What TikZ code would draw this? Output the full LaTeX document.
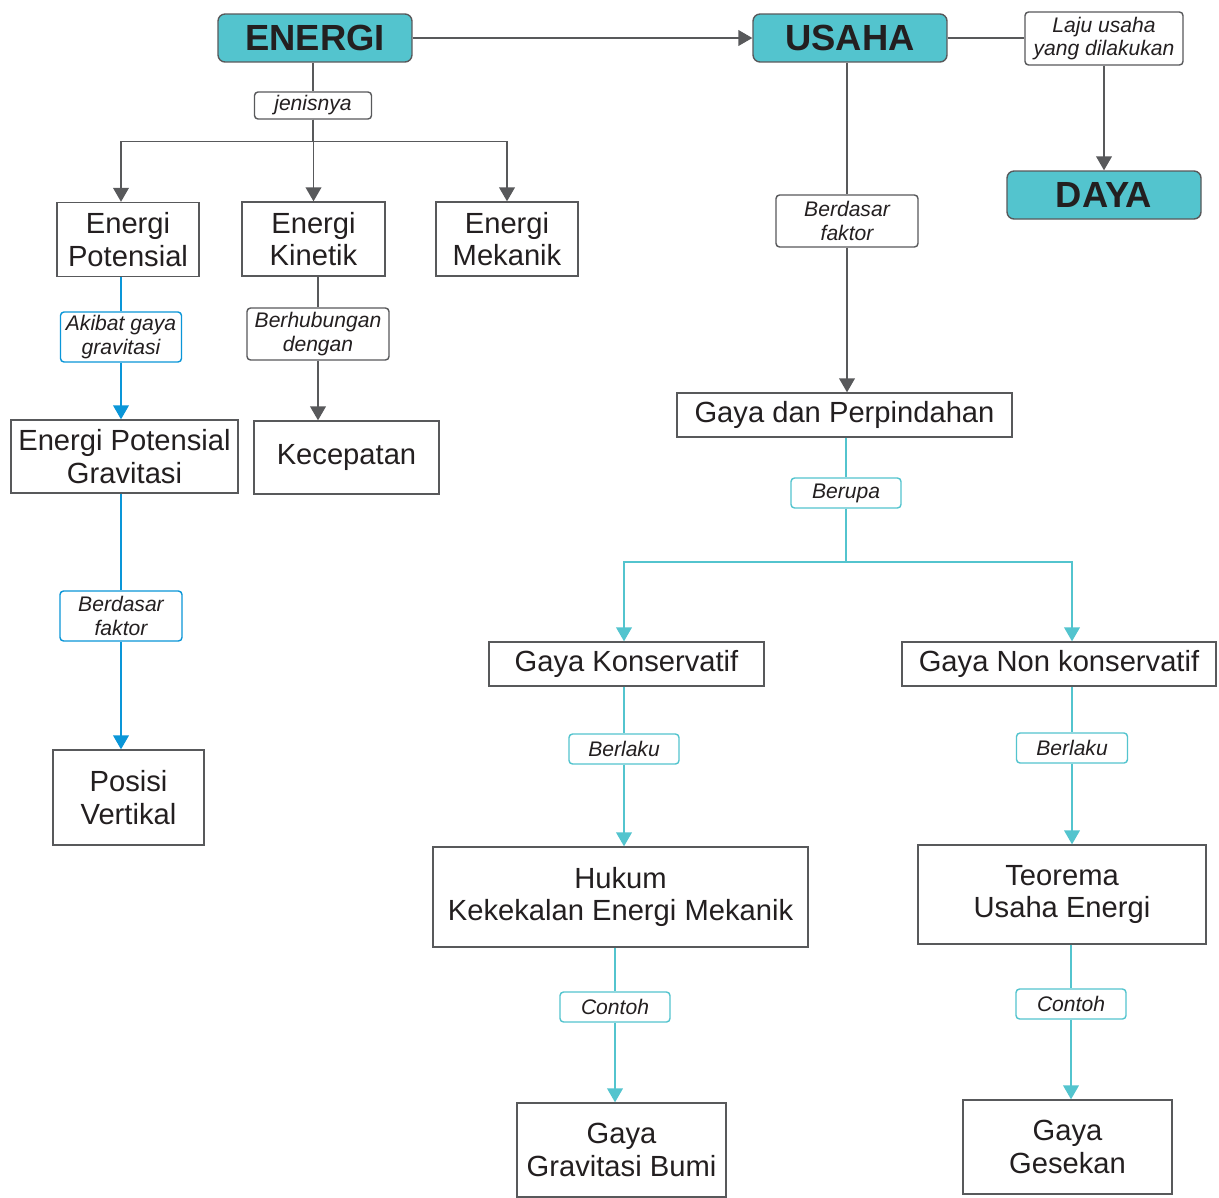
\documentclass[tikz,border=0pt]{standalone}
\usepackage{fontspec}
\setmainfont{Liberation Sans}
\usetikzlibrary{arrows.meta}

\definecolor{tosca}{HTML}{53C4CE}
\definecolor{garis}{HTML}{58595B}
\definecolor{biru}{HTML}{0A96D8}
\definecolor{teks}{HTML}{231F20}

\tikzset{
  judul/.style={draw=garis, fill=tosca, rounded corners=4pt, line width=0.8pt,
    minimum width=3.88cm, minimum height=0.96cm, text=teks,
    font=\fontsize{20.7}{24}\selectfont\bfseries},
  kotak/.style={draw=garis, line width=0.8pt, align=center, text=teks,
    font=\fontsize{16.6}{18.5}\selectfont},
  ket/.style={draw=garis, fill=white, rounded corners=2pt, line width=0.8pt,
    align=center, text=teks, inner sep=1pt,
    font=\fontsize{12}{13.6}\selectfont\itshape},
  ketbiru/.style={ket, draw=biru},
  kettosca/.style={ket, draw=tosca},
  panah/.style={-{Triangle[width=9pt,length=8pt]}},
  abu/.style={draw=garis, line width=0.9pt},
  lbiru/.style={draw=biru, line width=0.9pt},
  ltosca/.style={draw=tosca, line width=0.9pt},
}

\begin{document}
\begin{tikzpicture}[x=0.02cm, y=-0.02cm]
   \clip (0,0) rectangle (1219,1197);
   \fill[white] (0,0) rectangle (1219,1197);

   % kepala
   \node[judul] (energi) at (315,38) {ENERGI};
   \node[judul] (usaha) at (850,38) {USAHA};
   \node[judul] (daya) at (1104,195) {DAYA};
   \node[ket, minimum width=3.16cm, minimum height=1.06cm] (laju) at (1104,38.5) {Laju usaha\\yang dilakukan};

   % cabang energi
   \node[ket, minimum width=2.34cm, minimum height=0.54cm] (jenis) at (313,105.5) {jenisnya};
   \node[kotak, minimum width=2.84cm, minimum height=1.48cm] (epot) at (128,239.5) {Energi\\Potensial};
   \node[kotak, minimum width=2.86cm, minimum height=1.48cm] (ekin) at (313.5,239) {Energi\\Kinetik};
   \node[kotak, minimum width=2.84cm, minimum height=1.48cm] (emek) at (507,239) {Energi\\Mekanik};
   \node[ketbiru, minimum width=2.42cm, minimum height=1.0cm] (akibat) at (121,337) {Akibat gaya\\gravitasi};
   \node[ket, minimum width=2.84cm, minimum height=1.04cm] (berhub) at (318,334) {Berhubungan\\dengan};
   \node[kotak, minimum width=4.54cm, minimum height=1.46cm] (epg) at (124.5,456.5) {Energi Potensial\\Gravitasi};
   \node[kotak, minimum width=3.7cm, minimum height=1.46cm] (kecep) at (346.5,457.5) {Kecepatan};
   \node[ketbiru, minimum width=2.44cm, minimum height=1.0cm] (bfkiri) at (121,616) {Berdasar\\faktor};
   \node[kotak, minimum width=3.02cm, minimum height=1.9cm] (posisi) at (128.5,797.5) {Posisi\\Vertikal};

   % cabang usaha
   \node[ket, minimum width=2.84cm, minimum height=1.04cm] (bfkanan) at (847,221) {Berdasar\\faktor};
   \node[kotak, minimum width=6.7cm, minimum height=0.88cm] (gdp) at (844.5,415) {Gaya dan Perpindahan};
   \node[kettosca, minimum width=2.2cm, minimum height=0.6cm] (berupa) at (846,493) {Berupa};
   \node[kotak, minimum width=5.5cm, minimum height=0.88cm] (gk) at (626.5,664) {Gaya Konservatif};
   \node[kotak, minimum width=6.28cm, minimum height=0.88cm] (gnk) at (1059,664) {Gaya Non konservatif};
   \node[kettosca, minimum width=2.2cm, minimum height=0.6cm] (berlakua) at (624,749) {Berlaku};
   \node[kettosca, minimum width=2.22cm, minimum height=0.6cm] (berlakub) at (1072,748) {Berlaku};
   \node[kotak, minimum width=7.5cm, minimum height=2.0cm] (hukum) at (620.5,897) {Hukum\\Kekekalan Energi Mekanik};
   \node[kotak, minimum width=5.76cm, minimum height=1.98cm] (teorema) at (1062,894.5) {Teorema\\Usaha Energi};
   \node[kettosca, minimum width=2.2cm, minimum height=0.6cm] (contoha) at (615,1007) {Contoh};
   \node[kettosca, minimum width=2.2cm, minimum height=0.6cm] (contohb) at (1071,1004) {Contoh};
   \node[kotak, minimum width=4.18cm, minimum height=1.88cm] (ggb) at (621.5,1150) {Gaya\\Gravitasi Bumi};
   \node[kotak, minimum width=4.18cm, minimum height=1.88cm] (gesek) at (1067.5,1147) {Gaya\\Gesekan};

   % garis abu
   \draw[abu, panah] (energi) -- (usaha);
   \draw[abu] (jenis |- energi.south) -- (jenis);
   \draw[abu, panah] (jenis.south) -- ++(0,22) -| (akibat |- epot.north);
   \draw[abu, panah] (jenis.south) -- ++(0,22) -| (ekin.north);
   \draw[abu, panah] (jenis.south) -- ++(0,22) -| (emek.north);
   \draw[abu] (berhub |- ekin.south) -- (berhub);
   \draw[abu, panah] (berhub) -- (berhub |- kecep.north);
   \draw[abu] (usaha.east) -- (usaha.east -| laju.west);
   \draw[abu, panah] (laju) -- (daya);
   \draw[abu] (bfkanan |- usaha.south) -- (bfkanan);
   \draw[abu, panah] (bfkanan) -- (bfkanan |- gdp.north);

   % garis biru
   \draw[lbiru] (akibat |- epot.south) -- (akibat);
   \draw[lbiru, panah, biru] (akibat) -- (akibat |- epg.north);
   \draw[lbiru] (bfkiri |- epg.south) -- (bfkiri);
   \draw[lbiru, panah, biru] (bfkiri) -- (bfkiri |- posisi.north);

   % garis tosca
   \draw[ltosca] (berupa |- gdp.south) -- (berupa);
   \draw[ltosca, panah, tosca] (berupa.south) -- ++(0,53) -| (berlakua |- gk.north);
   \draw[ltosca, panah, tosca] (berupa.south) -- ++(0,53) -| (berlakub |- gnk.north);
   \draw[ltosca] (berlakua |- gk.south) -- (berlakua);
   \draw[ltosca, panah, tosca] (berlakua) -- (berlakua |- hukum.north);
   \draw[ltosca] (berlakub |- gnk.south) -- (berlakub);
   \draw[ltosca, panah, tosca] (berlakub) -- (berlakub |- teorema.north);
   \draw[ltosca] (contoha |- hukum.south) -- (contoha);
   \draw[ltosca, panah, tosca] (contoha) -- (contoha |- ggb.north);
   \draw[ltosca] (contohb |- teorema.south) -- (contohb);
   \draw[ltosca, panah, tosca] (contohb) -- (contohb |- gesek.north);
\end{tikzpicture}
\end{document}
